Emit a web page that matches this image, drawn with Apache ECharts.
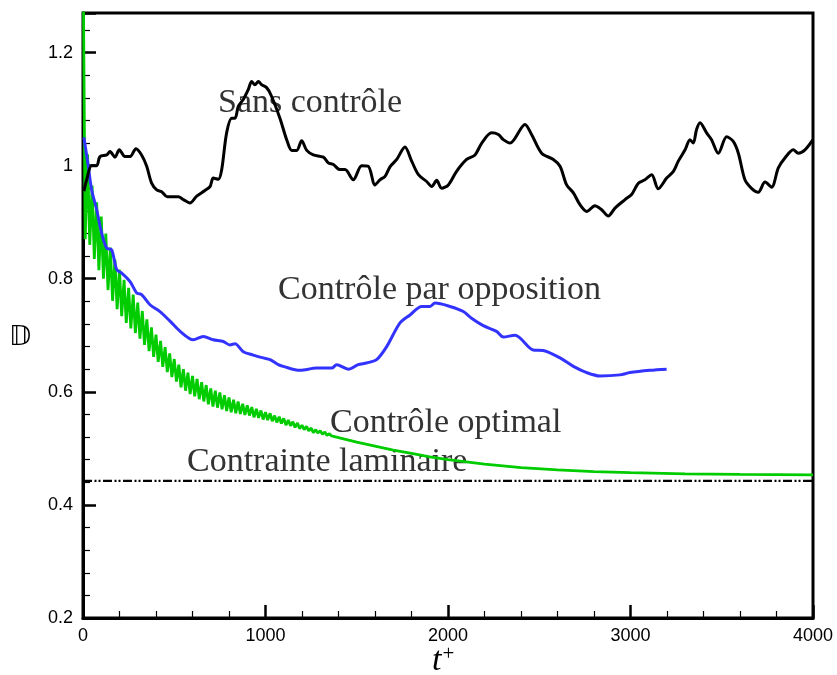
<!DOCTYPE html>
<html>
<head>
<meta charset="utf-8">
<script src="https://cdn.jsdelivr.net/npm/echarts@6/dist/echarts.min.js"></script>
<style>
  html, body { margin: 0; padding: 0; background: #fff; }
  #chart { width: 837px; height: 675px; }
</style>
</head>
<body>
<div id="chart"></div>
<script>
// axes
const xTicks = [0, 1000, 2000, 3000, 4000];
const yTicks = [0.2, 0.4, 0.6, 0.8, 1, 1.2];

// Sans contrôle [t+, D]
const sansControle = [
  [5, 0.955], [20, 0.975], [47, 1.0], [75, 1.0], [93, 1.016], [130, 1.019], [148, 1.025],
  [175, 1.015], [199, 1.028], [230, 1.016], [258, 1.016], [290, 1.030], [321, 1.019],
  [349, 0.999], [376, 0.969], [404, 0.957], [431, 0.954], [462, 0.945], [522, 0.945],
  [550, 0.940], [586, 0.934], [623, 0.946], [668, 0.956], [696, 0.963], [714, 0.978],
  [742, 0.976], [760, 0.993], [787, 1.058], [815, 1.084], [833, 1.084], [851, 1.105],
  [878, 1.117], [906, 1.135], [924, 1.149], [942, 1.143], [961, 1.149], [979, 1.143],
  [1006, 1.138], [1030, 1.125], [1079, 1.084], [1116, 1.046], [1144, 1.027], [1171, 1.027],
  [1198, 1.044], [1226, 1.027], [1262, 1.019], [1317, 1.015], [1344, 1.005], [1372, 1.002],
  [1408, 0.993], [1436, 0.993], [1481, 0.975], [1527, 1.0], [1563, 0.999], [1600, 0.966],
  [1627, 0.975], [1655, 0.981], [1682, 0.998], [1719, 1.011], [1764, 1.033], [1801, 1.008],
  [1838, 0.984], [1883, 0.972], [1911, 0.963], [1938, 0.974], [1965, 0.960], [2002, 0.966],
  [2047, 0.990], [2102, 1.011], [2148, 1.019], [2185, 1.040], [2239, 1.058], [2276, 1.055],
  [2303, 1.046], [2340, 1.040], [2422, 1.073], [2458, 1.055], [2513, 1.022], [2577, 1.011],
  [2614, 0.999], [2650, 0.966], [2687, 0.952], [2723, 0.931], [2760, 0.919], [2805, 0.929],
  [2842, 0.922], [2878, 0.911], [2915, 0.925], [2970, 0.940], [3006, 0.949], [3043, 0.969],
  [3079, 0.975], [3116, 0.984], [3152, 0.959], [3198, 0.978], [3235, 0.990], [3262, 1.008],
  [3299, 1.028], [3326, 1.046], [3344, 1.040], [3362, 1.064], [3381, 1.076], [3417, 1.058],
  [3444, 1.046], [3481, 1.022], [3527, 1.051], [3563, 1.043], [3591, 1.022], [3627, 0.975],
  [3663, 0.960], [3700, 0.953], [3737, 0.971], [3773, 0.962], [3810, 0.996], [3847, 1.014],
  [3892, 1.028], [3919, 1.022], [3956, 1.028], [4000, 1.046]
];

// Contrôle par opposition
const opposition = [
  [5, 1.05], [29, 0.999], [47, 0.958], [75, 0.922], [102, 0.881], [130, 0.854], [157, 0.851],
  [185, 0.816], [212, 0.810], [258, 0.795], [294, 0.775], [321, 0.772], [367, 0.754],
  [422, 0.742], [477, 0.725], [532, 0.707], [604, 0.692], [659, 0.698], [714, 0.692],
  [769, 0.689], [805, 0.683], [833, 0.685], [878, 0.671], [933, 0.665], [988, 0.660],
  [1025, 0.657], [1070, 0.648], [1097, 0.645], [1189, 0.638], [1281, 0.642], [1363, 0.642],
  [1390, 0.648], [1454, 0.640], [1508, 0.648], [1554, 0.651], [1609, 0.657], [1664, 0.680],
  [1737, 0.722], [1792, 0.736], [1856, 0.751], [1901, 0.751], [1929, 0.757], [2011, 0.751],
  [2084, 0.742], [2129, 0.730], [2193, 0.717], [2266, 0.707], [2303, 0.697], [2367, 0.700],
  [2467, 0.674], [2522, 0.673], [2614, 0.660], [2687, 0.645], [2760, 0.634], [2833, 0.628],
  [2942, 0.630], [2997, 0.634], [3107, 0.638], [3198, 0.640]
];

// Contrôle optimal: start, oscillating part [t, haut, bas], smooth tail
const optimalStart = [[0, 1.40], [12, 0.87]];
const optimalTeeth = [
  [25, 1.02, 0.86], [50, 0.965, 0.835], [75, 0.935, 0.815], [100, 0.91, 0.80],
  [125, 0.88, 0.78], [150, 0.855, 0.761], [175, 0.834, 0.746], [200, 0.816, 0.734],
  [225, 0.798, 0.722], [250, 0.784, 0.712], [275, 0.772, 0.704], [300, 0.758, 0.694],
  [325, 0.743, 0.683], [350, 0.728, 0.672], [375, 0.714, 0.662], [400, 0.701, 0.653],
  [425, 0.69, 0.644], [450, 0.679, 0.635], [475, 0.668, 0.626], [500, 0.658, 0.618],
  [525, 0.648, 0.608], [550, 0.64, 0.602], [575, 0.634, 0.596], [600, 0.628, 0.592],
  [625, 0.623, 0.587], [650, 0.617, 0.583], [675, 0.612, 0.578], [700, 0.606, 0.574],
  [725, 0.602, 0.572], [750, 0.599, 0.569], [775, 0.594, 0.566], [800, 0.590, 0.564],
  [825, 0.586, 0.562], [850, 0.583, 0.561], [875, 0.579, 0.559], [900, 0.576, 0.558],
  [925, 0.573, 0.555], [950, 0.570, 0.554], [975, 0.567, 0.551], [1000, 0.564, 0.550],
  [1025, 0.562, 0.548], [1050, 0.558, 0.546], [1075, 0.556, 0.544], [1100, 0.553, 0.541],
  [1125, 0.550, 0.540], [1150, 0.547, 0.537], [1175, 0.545, 0.535], [1200, 0.541, 0.533],
  [1225, 0.539, 0.531], [1250, 0.536, 0.528], [1275, 0.533, 0.527], [1300, 0.531, 0.525],
  [1325, 0.529, 0.523], [1350, 0.526, 0.522]
];
const optimalTail = [
  [1400, 0.519], [1500, 0.511], [1600, 0.504], [1700, 0.497], [1800, 0.491], [1900, 0.485],
  [2000, 0.480], [2100, 0.476], [2200, 0.472], [2400, 0.466], [2600, 0.462], [2800, 0.459],
  [3000, 0.457], [3300, 0.455], [3600, 0.454], [4000, 0.453]
];

// Contrainte laminaire
const laminaire = 0.4425;

const optimal = optimalStart.slice();
optimalTeeth.forEach(r => {
  optimal.push([r[0], r[1]]);
  optimal.push([r[0] + 12, r[2]]);
});
optimalTail.forEach(p => optimal.push(p));

const chart = echarts.init(document.getElementById('chart'));

const labelFont = { fontFamily: 'Liberation Sans', fontSize: 18, color: '#000' };
const noteStyle = { fontFamily: 'Liberation Serif', fontSize: 34, fill: '#333' };

const option = {
  animation: false,
  grid: {
    left: 83, right: 24, top: 13, bottom: 57,
    show: true, borderColor: '#000', borderWidth: 3, backgroundColor: 'transparent'
  },
  xAxis: {
    type: 'value', min: 0, max: 4000, interval: 1000,
    axisLine: { show: true, lineStyle: { color: '#000', width: 3 } },
    axisTick: { inside: true, length: 13, lineStyle: { color: '#000', width: 2.5 } },
    minorTick: { show: true, splitNumber: 5, length: 7, lineStyle: { color: '#000', width: 1.2 } },
    axisLabel: Object.assign({ margin: 9, formatter: v => xTicks.includes(v) ? String(v) : '' }, labelFont),
    splitLine: { show: false }
  },
  yAxis: [{
    type: 'value', min: 0.2, max: 1.27, interval: 0.2,
    axisLine: { show: true, lineStyle: { color: '#000', width: 3 } },
    axisTick: { inside: true, length: 13, lineStyle: { color: '#000', width: 2.5 } },
    axisLabel: Object.assign({
      margin: 10,
      formatter: v => {
        const r = Math.round(v * 10) / 10;
        return (Math.abs(v - r) < 1e-6 && yTicks.includes(r)) ? String(r) : '';
      }
    }, labelFont),
    splitLine: { show: false }
  }, {
    type: 'value', min: 0.2, max: 1.27, interval: 0.04, position: 'left',
    axisLine: { show: false },
    axisTick: { inside: true, length: 7, lineStyle: { color: '#000', width: 1.2 } },
    axisLabel: { show: false },
    splitLine: { show: false }
  }],
  series: [
    {
      name: 'Contrainte laminaire', type: 'line', showSymbol: false, yAxisIndex: 0,
      data: [[0, laminaire], [4000, laminaire]],
      lineStyle: { color: '#000', width: 2.4, type: [9, 2.5, 2, 2, 2, 2.5] }
    },
    {
      name: 'Contrôle optimal', type: 'line', showSymbol: false, yAxisIndex: 0,
      data: optimal, clip: true,
      lineStyle: { color: '#00cc00', width: 2.8 }
    },
    {
      name: 'Contrôle par opposition', type: 'line', showSymbol: false, yAxisIndex: 0,
      data: opposition, smooth: 0.3,
      lineStyle: { color: '#3333ff', width: 3 }
    },
    {
      name: 'Sans contrôle', type: 'line', showSymbol: false, yAxisIndex: 0,
      data: sansControle, smooth: 0.3,
      lineStyle: { color: '#000', width: 3 }
    }
  ],
  graphic: [
    { type: 'text', z: -1, left: 218, top: 86, style: Object.assign({ text: 'Sans contrôle' }, noteStyle) },
    { type: 'text', z: -1, left: 278, top: 273, style: Object.assign({ text: 'Contrôle par opposition' }, noteStyle) },
    { type: 'text', z: -1, left: 330, top: 406, style: Object.assign({ text: 'Contrôle optimal' }, noteStyle) },
    { type: 'text', z: -1, left: 187, top: 445, style: Object.assign({ text: 'Contrainte laminaire' }, noteStyle) },
    { type: 'text', left: 9, top: 324, style: { text: '𝔻', fontFamily: 'DejaVu Sans', fontSize: 27, fill: '#000' } },
    {
      type: 'text', left: 432, top: 644,
      style: {
        text: '{t|t}{p|+}',
        rich: {
          t: { fontFamily: 'Liberation Serif', fontStyle: 'italic', fontSize: 34, fill: '#000' },
          p: { fontFamily: 'Liberation Serif', fontSize: 21, fill: '#000', verticalAlign: 'top', padding: [0, 0, 13, 1] }
        }
      }
    }
  ]
};

chart.setOption(option);
</script>
</body>
</html>
